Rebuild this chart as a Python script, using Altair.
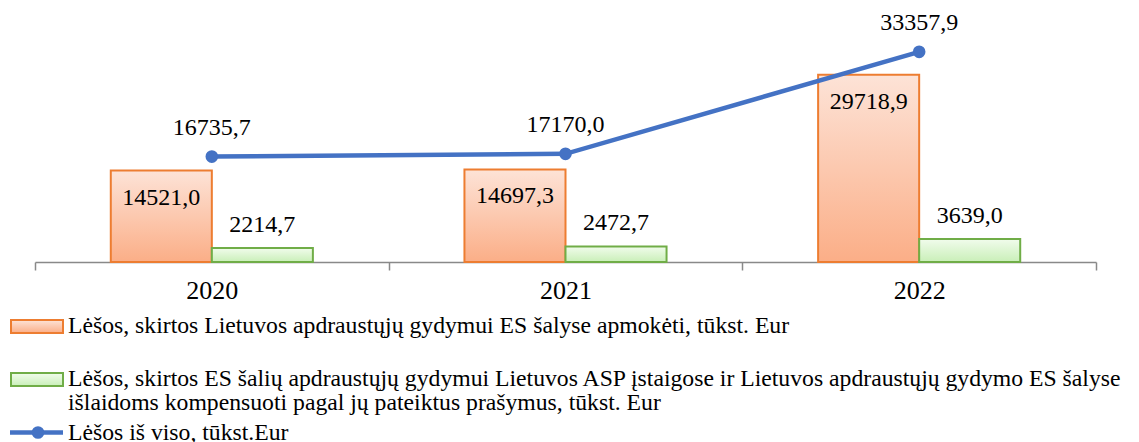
import altair as alt
import pandas as pd

years = ["2020", "2021", "2022"]
lt_abroad = [14521.0, 14697.3, 29718.9]
eu_in_lt = [2214.7, 2472.7, 3639.0]
total = [16735.7, 17170.0, 33357.9]

series_names = ["lt", "eu"]
legend_labels = [
    "Lėšos, skirtos Lietuvos apdraustųjų gydymui ES šalyse apmokėti, tūkst. Eur",
    "Lėšos, skirtos ES šalių apdraustųjų gydymui Lietuvos ASP įstaigose ir Lietuvos apdraustųjų gydymo ES šalyse\nišlaidoms kompensuoti pagal jų pateiktus prašymus, tūkst. Eur",
    "Lėšos iš viso, tūkst.Eur",
]

FONT = "Liberation Serif"
ORANGE = "#ed7d31"
GREEN = "#70ad47"
BLUE = "#4472c4"
VAL_FS = 24
LEG_FS = 23.7


def fmt(v):
    return f"{v:.1f}".replace(".", ",")


bars = pd.DataFrame(
    {
        "year": years * 2,
        "series": ["lt"] * 3 + ["eu"] * 3,
        "value": lt_abroad + eu_in_lt,
    }
)
bars["label"] = bars["value"].map(fmt)
line_df = pd.DataFrame({"year": years, "value": total})
line_df["label"] = line_df["value"].map(fmt)

orange_grad = alt.Gradient(
    gradient="linear", x1=0, y1=0, x2=0, y2=1,
    stops=[alt.GradientStop(color="#fde3d7", offset=0),
           alt.GradientStop(color="#fbae87", offset=1)],
)
green_grad = alt.Gradient(
    gradient="linear", x1=0, y1=0, x2=0, y2=1,
    stops=[alt.GradientStop(color="#f1fcec", offset=0),
           alt.GradientStop(color="#c9efb8", offset=1)],
)

x_enc = alt.X(
    "year:N",
    sort=years,
    scale=alt.Scale(paddingInner=0, paddingOuter=0),
    axis=alt.Axis(
        title=None, labelAngle=0, labelFont=FONT, labelFontSize=26,
        labelColor="black", labelPadding=7, domainColor="#898989",
        domainWidth=1.5, tickColor="#898989", tickWidth=1.5, tickSize=8,
        tickBand="extent", grid=False,
    ),
)
y_scale = alt.Scale(domain=[0, 40000], nice=False)
y_enc = alt.Y("value:Q", scale=y_scale, axis=None)
xoff = alt.XOffset(
    "series:N", scale=alt.Scale(domain=series_names, paddingOuter=0.75, paddingInner=0)
)

base = alt.Chart(bars)
bar_lt = base.transform_filter(alt.datum.series == "lt").mark_bar(
    fill=orange_grad, stroke=ORANGE, strokeWidth=2
).encode(x=x_enc, xOffset=xoff, y=y_enc)
bar_eu = base.transform_filter(alt.datum.series == "eu").mark_bar(
    fill=green_grad, stroke=GREEN, strokeWidth=2
).encode(x=x_enc, xOffset=xoff, y=y_enc)
txt_lt = base.transform_filter(alt.datum.series == "lt").mark_text(
    font=FONT, fontSize=VAL_FS, color="black", dy=27, baseline="middle"
).encode(x=x_enc, xOffset=xoff, y=y_enc, text="label:N")
txt_eu = base.transform_filter(alt.datum.series == "eu").mark_text(
    font=FONT, fontSize=VAL_FS, color="black", dy=-23, baseline="middle"
).encode(x=x_enc, xOffset=xoff, y=y_enc, text="label:N")

lbase = alt.Chart(line_df)
line = lbase.mark_line(color=BLUE, strokeWidth=4.5).encode(x=x_enc, y=y_enc)
pts = lbase.mark_point(filled=True, color=BLUE, size=160, opacity=1).encode(x=x_enc, y=y_enc)
txt_line = lbase.mark_text(
    font=FONT, fontSize=VAL_FS, color="black", dy=-29, baseline="middle"
).encode(x=x_enc, y=y_enc, text="label:N")

# manual legend
leg_df = pd.DataFrame({"label": legend_labels, "idx": [0, 1, 2]})


def one(i):
    return alt.Chart(leg_df).transform_filter(alt.datum.idx == i)


leg_r1 = one(0).mark_rect(fill=orange_grad, stroke=ORANGE, strokeWidth=2).encode(
    x=alt.value(-24), x2=alt.value(28), y=alt.value(310), y2=alt.value(323)
)
leg_r2 = one(1).mark_rect(fill=green_grad, stroke=GREEN, strokeWidth=2).encode(
    x=alt.value(-24), x2=alt.value(28), y=alt.value(363), y2=alt.value(376)
)
leg_l3 = one(2).mark_rule(color=BLUE, strokeWidth=4.5).encode(
    x=alt.value(-25), x2=alt.value(28), y=alt.value(422.5)
)
leg_p3 = one(2).mark_point(filled=True, color=BLUE, size=160, opacity=1).encode(
    x=alt.value(3), y=alt.value(422.5)
)
leg_t1 = one(0).mark_text(
    font=FONT, fontSize=LEG_FS, color="black", align="left", baseline="alphabetic"
).encode(x=alt.value(33), y=alt.value(323), text="label:N")
leg_t2 = one(1).mark_text(
    font=FONT, fontSize=LEG_FS, color="black", align="left", baseline="alphabetic",
    lineBreak="\n", lineHeight=24,
).encode(x=alt.value(33), y=alt.value(376), text="label:N")
leg_t3 = one(2).mark_text(
    font=FONT, fontSize=LEG_FS, color="black", align="left", baseline="alphabetic"
).encode(x=alt.value(33), y=alt.value(430), text="label:N")

chart = alt.layer(
    bar_lt, bar_eu, line, pts, txt_lt, txt_eu, txt_line,
    leg_r1, leg_r2, leg_l3, leg_p3, leg_t1, leg_t2, leg_t3,
).properties(
    width=1061, height=252,
    autosize=alt.AutoSizeParams(type="none"),
    padding={"left": 27, "top": 2, "right": 34, "bottom": 180},
).configure_view(stroke=None)

chart.save("out.html", embed_options={"renderer": "svg", "actions": False})
